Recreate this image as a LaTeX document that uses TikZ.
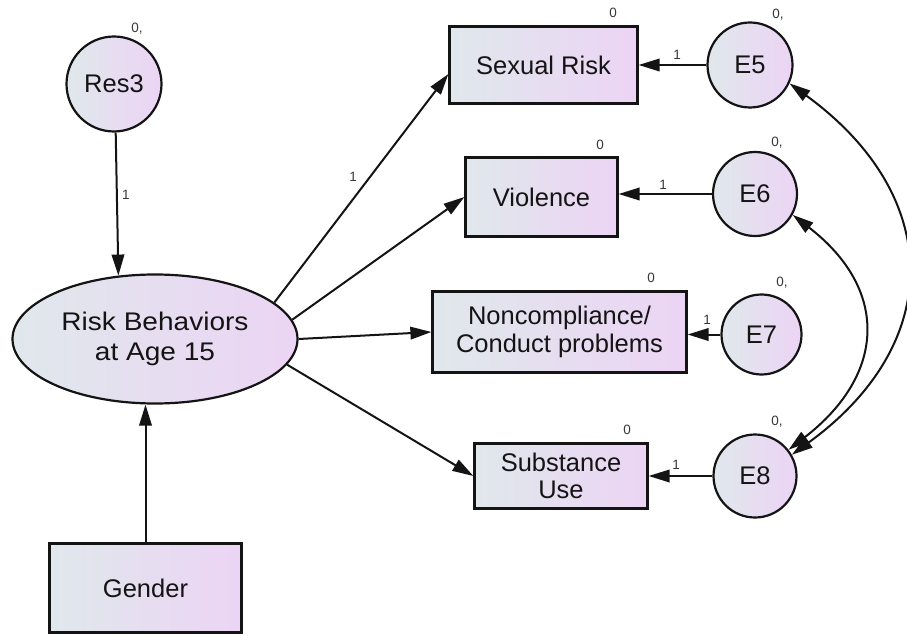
\documentclass[tikz,border=0pt]{standalone}
\usepackage{fontspec}
\setmainfont{Liberation Sans}
\usetikzlibrary{arrows.meta,shapes.geometric}
\definecolor{shadeL}{RGB}{224,232,236}
\definecolor{shadeR}{RGB}{236,212,244}
\definecolor{ink}{RGB}{20,20,20}

\begin{document}
\begin{tikzpicture}[x=1pt,y=-1pt,
  every node/.style={text=ink},
  fillgrad/.style={left color=shadeL, right color=shadeR, draw=ink, line width=2.2pt},
  obsbox/.style={fillgrad, rectangle, inner sep=0pt, align=center,
    font=\fontsize{25.5}{27.5}\selectfont},
  latent/.style={fillgrad, circle, inner sep=0pt,
    font=\fontsize{25.5}{29}\selectfont},
  factor/.style={fillgrad, ellipse, inner sep=0pt, align=center,
    font=\fontsize{25.5}{30}\selectfont\addfontfeatures{FakeStretch=1.1}},
  regpath/.style={draw=ink, line width=2pt, -{Triangle[length=21pt,width=12.5pt]}},
  covpath/.style={draw=ink, line width=2pt,
    {Triangle[length=21pt,width=12.5pt]}-{Triangle[length=21pt,width=12.5pt]}},
  est/.style={font=\fontsize{13.5}{15}\selectfont, inner sep=0pt, text=ink!85},
]
\useasboundingbox (0,0) rectangle (907,636);

% variables
\node[latent, minimum size=95pt] (res) at (114,84) {Res3};
\node[factor, minimum width=285pt, minimum height=129pt] (rb) at (155,339)
  {Risk Behaviors\\at Age 15};
\node[obsbox, minimum width=192pt, minimum height=89pt] (gen) at (145.5,588) {Gender};
\node[obsbox, minimum width=188pt, minimum height=77pt] (sex) at (543.5,65) {Sexual Risk};
\node[obsbox, minimum width=152pt, minimum height=79pt] (vio) at (541.5,197) {Violence};
\node[obsbox, minimum width=254pt, minimum height=81pt] (nc) at (559.5,332)
  {Noncompliance/\\Conduct problems};
\node[obsbox, minimum width=173pt, minimum height=65pt] (sub) at (561,476) {Substance\\Use};
\node[latent, minimum size=85pt] (e5) at (750,65) {E5};
\node[latent, minimum size=84pt] (e6) at (755,194) {E6};
\node[latent, minimum size=80pt] (e7) at (761.5,334.5) {E7};
\node[latent, minimum size=83pt] (e8) at (755,476) {E8};

% regression paths
\draw[regpath] (res.-88) -- (rb.120);
\draw[regpath] (gen.north) -- (gen.north |- rb.south);
\draw[regpath] (rb.17) -- ([yshift=-9pt]sex.west);
\draw[regpath] (rb.8) -- (vio.west);
\draw[regpath] (rb.0) -- (nc.west);
\draw[regpath] (rb.-11) -- (sub.west);
\draw[regpath] (e5.west) -- (e5.west -| sex.east);
\draw[regpath] (e6.west) -- (e6.west -| vio.east);
\draw[regpath] (e7.west) -- (e7.west -| nc.east);
\draw[regpath] (e8.west) -- (e8.west -| sub.east);

% error covariances
\draw[covpath] (e5.-25) .. controls +(154,112) and +(154,-112) .. (e8.30);
\draw[covpath] (e6.-29) .. controls +(97,75) and +(97,-75) .. (e8.38);

% fixed parameters
\node[est] (vres) at (137,29) {0,};
\node[est] (vsex) at (613,13) {0};
\node[est] (ve5) at (778,15) {0,};
\node[est] (vvio) at (600,145) {0};
\node[est] (ve6) at (777,143) {0,};
\node[est] (vnc) at (651,278) {0};
\node[est] (ve7) at (782,283) {0,};
\node[est] (vsub) at (627,430) {0};
\node[est] (ve8) at (777,422) {0,};

\node[est] (wres) at (126,195) {1};
\node[est] (wsex) at (353,177) {1};
\node[est] (we5) at (677,55) {1};
\node[est] (we6) at (663,185) {1};
\node[est] (we7) at (707,320) {1};
\node[est] (we8) at (676,465) {1};
\end{tikzpicture}
\end{document}
